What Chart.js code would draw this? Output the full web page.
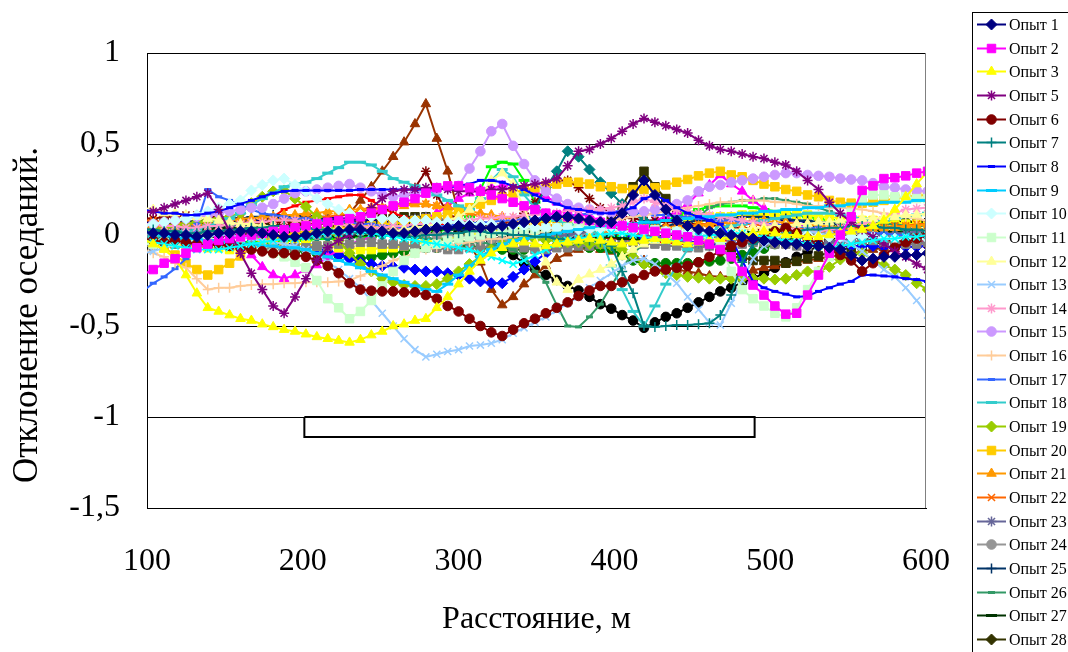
<!DOCTYPE html>
<html>
<head>
<meta charset="utf-8">
<script src="https://cdn.jsdelivr.net/npm/chart.js@4.4.1/dist/chart.umd.min.js"></script>
<style>
html, body { margin: 0; padding: 0; background: #fff; overflow: hidden; }
canvas { display: block; }
</style>
</head>
<body>
<canvas id="chart" width="1068" height="652"></canvas>
<script>
// distance along the profile, m
const distance = [
  97, 104, 111, 118, 125, 132, 139, 146, 153, 160,
  167, 174, 181, 188, 195, 202, 209, 216, 223, 230,
  237, 244, 251, 258, 265, 272, 279, 286, 293, 300,
  307, 314, 321, 328, 335, 342, 349, 356, 363, 370,
  377, 384, 391, 398, 405, 412, 419, 426, 433, 440,
  447, 454, 461, 468, 475, 482, 489, 496, 503, 510,
  517, 524, 531, 538, 545, 552, 559, 566, 573, 580,
  587, 594, 601
];

const opyt1 = [
  0.02,0.01,0.01,0.00,0.00,-0.01,0.00,0.01,0.01,0.02,
  0.02,0.01,0.00,-0.01,-0.01,0.00,0.01,0.02,0.02,0.03,
  0.03,0.02,0.02,0.01,0.01,0.02,0.03,0.04,0.04,0.05,
  0.05,0.04,0.04,0.05,0.06,0.07,0.08,0.09,0.10,0.10,
  0.09,0.08,0.07,0.07,0.12,0.22,0.30,0.22,0.14,0.08,
  0.05,0.03,0.02,0.01,0.00,-0.01,-0.02,-0.03,-0.04,-0.05,
  -0.05,-0.06,-0.06,-0.07,-0.08,-0.11,-0.14,-0.13,-0.12,-0.12,
  -0.11,-0.11,-0.10
];
const opyt2 = [
  -0.22,-0.19,-0.155,-0.13,-0.10,-0.07,-0.05,-0.03,-0.02,-0.01,
  0.00,0.01,0.02,0.03,0.04,0.05,0.06,0.07,0.08,0.09,
  0.10,0.12,0.14,0.16,0.18,0.20,0.23,0.26,0.27,0.27,
  0.26,0.24,0.22,0.20,0.18,0.16,0.14,0.12,0.11,0.10,
  0.09,0.08,0.07,0.06,0.05,0.04,0.03,0.02,0.01,0.00,
  -0.01,-0.03,-0.05,-0.08,-0.12,-0.20,-0.275,-0.33,-0.39,-0.435,
  -0.43,-0.33,-0.22,-0.10,0.00,0.10,0.245,0.27,0.31,0.315,
  0.325,0.34,0.35
];
const opyt3 = [
  -0.02,-0.05,-0.08,-0.13,-0.22,-0.32,-0.40,-0.42,-0.44,-0.46,
  -0.47,-0.49,-0.505,-0.52,-0.53,-0.545,-0.56,-0.57,-0.58,-0.59,
  -0.575,-0.55,-0.53,-0.50,-0.49,-0.47,-0.46,-0.40,-0.34,-0.27,
  -0.20,-0.14,-0.10,-0.07,-0.05,-0.04,-0.05,-0.06,-0.05,-0.04,
  -0.03,-0.02,-0.03,-0.04,-0.05,-0.04,-0.03,-0.02,-0.03,-0.04,
  -0.05,-0.04,-0.03,-0.02,-0.01,0.00,0.01,0.02,0.01,0.00,
  0.00,-0.01,-0.01,0.00,0.01,0.02,0.03,0.05,0.08,0.14,
  0.21,0.28,0.35
];
const opyt4 = [
  -0.03,-0.04,-0.05,-0.06,-0.07,-0.08,-0.08,-0.08,-0.07,-0.06,
  -0.05,-0.04,-0.03,-0.02,-0.02,-0.01,0.00,0.01,0.01,0.02,
  0.02,0.01,0.00,-0.01,-0.02,-0.03,-0.04,-0.05,-0.06,-0.07,
  -0.08,-0.10,-0.12,-0.14,-0.16,-0.14,-0.11,-0.08,-0.05,-0.03,
  -0.02,-0.01,0.00,0.01,0.01,0.00,-0.01,-0.02,-0.03,-0.03,
  -0.02,-0.01,0.00,0.00,0.01,0.01,0.00,-0.01,-0.02,-0.03,
  -0.04,-0.05,-0.06,-0.07,-0.06,-0.05,-0.04,-0.03,-0.02,-0.02,
  -0.01,-0.01,0.00
];
const opyt5 = [
  0.12,0.13,0.15,0.17,0.19,0.21,0.23,0.14,0.02,-0.10,
  -0.21,-0.30,-0.39,-0.43,-0.34,-0.24,-0.14,-0.07,-0.03,0.00,
  0.08,0.15,0.20,0.24,0.25,0.25,0.26,0.26,0.25,0.24,
  0.24,0.24,0.25,0.25,0.26,0.27,0.28,0.29,0.31,0.38,
  0.46,0.47,0.50,0.53,0.57,0.61,0.64,0.62,0.60,0.58,
  0.56,0.52,0.49,0.47,0.46,0.445,0.43,0.42,0.40,0.385,
  0.35,0.30,0.25,0.18,0.12,0.07,0.03,-0.01,-0.05,-0.09,
  -0.12,-0.16,-0.19
];
const opyt6 = [
  -0.02,-0.03,-0.04,-0.03,-0.04,-0.05,-0.06,-0.05,-0.06,-0.07,
  -0.08,-0.09,-0.10,-0.10,-0.11,-0.12,-0.14,-0.17,-0.21,-0.265,
  -0.30,-0.306,-0.31,-0.31,-0.315,-0.315,-0.33,-0.35,-0.39,-0.42,
  -0.46,-0.50,-0.535,-0.555,-0.52,-0.485,-0.46,-0.43,-0.40,-0.37,
  -0.335,-0.305,-0.28,-0.28,-0.26,-0.24,-0.22,-0.20,-0.19,-0.18,
  -0.17,-0.15,-0.12,-0.09,-0.06,-0.04,-0.02,0.00,0.02,0.04,
  0.01,-0.02,-0.05,-0.08,-0.11,-0.14,-0.20,-0.155,-0.11,-0.07,
  -0.04,-0.02,0.00
];
const opyt7 = [
  0.03,0.03,0.02,0.02,0.01,0.01,0.02,0.02,0.03,0.03,
  0.04,0.04,0.05,0.05,0.04,0.04,0.03,0.03,0.02,0.02,
  0.01,0.01,0.00,0.00,-0.01,-0.01,0.00,0.00,0.01,0.01,
  0.02,0.02,0.01,0.01,0.00,0.00,-0.01,-0.01,-0.02,-0.02,
  -0.03,-0.03,-0.04,-0.06,-0.20,-0.32,-0.50,-0.505,-0.50,-0.495,
  -0.495,-0.49,-0.485,-0.44,-0.33,-0.15,-0.05,-0.02,0.00,0.01,
  0.02,0.03,0.03,0.04,0.04,0.05,0.05,0.05,0.04,0.04,
  0.03,0.03,0.02
];
const opyt8 = [
  0.14,0.13,0.12,0.12,0.11,0.11,0.12,0.13,0.15,0.17,
  0.19,0.21,0.23,0.24,0.245,0.245,0.245,0.245,0.245,0.245,
  0.25,0.25,0.25,0.25,0.25,0.25,0.25,0.25,0.26,0.27,
  0.28,0.30,0.30,0.29,0.27,0.25,0.22,0.19,0.17,0.15,
  0.14,0.13,0.12,0.12,0.13,0.15,0.20,0.22,0.19,0.15,
  0.12,0.10,0.08,0.06,-0.02,-0.14,-0.255,-0.29,-0.31,-0.325,
  -0.34,-0.335,-0.31,-0.29,-0.27,-0.255,-0.22,-0.22,-0.225,-0.23,
  -0.24,-0.245,-0.255
];
const opyt9 = [
  0.02,0.01,0.00,-0.01,-0.02,-0.02,-0.03,-0.03,-0.04,-0.05,
  -0.05,-0.06,-0.06,-0.07,-0.07,-0.08,-0.10,-0.12,-0.14,-0.16,
  -0.18,-0.20,-0.22,-0.24,-0.26,-0.28,-0.30,-0.31,-0.27,-0.22,
  -0.17,-0.12,-0.08,-0.05,-0.03,-0.02,-0.01,0.00,0.01,0.02,
  0.03,0.04,0.05,0.05,0.06,0.06,0.07,0.07,0.08,0.08,
  0.09,0.10,0.10,0.11,0.11,0.12,0.12,0.13,0.13,0.14,
  0.14,0.15,0.15,0.16,0.16,0.17,0.17,0.17,0.18,0.18,
  0.18,0.19,0.19
];
const opyt10 = [
  0.05,0.06,0.07,0.08,0.09,0.11,0.13,0.15,0.17,0.19,
  0.245,0.275,0.30,0.31,0.275,0.24,0.20,0.17,0.14,0.12,
  0.11,0.10,0.09,0.09,0.08,0.08,0.08,0.07,0.07,0.07,
  0.06,0.06,0.06,0.05,0.05,0.05,0.04,0.04,0.04,0.04,
  0.03,0.03,0.03,0.03,0.02,0.02,0.02,0.02,0.02,0.02,
  0.01,0.01,0.01,0.01,0.01,0.01,0.00,0.00,0.00,0.00,
  0.00,0.00,-0.01,-0.01,-0.01,-0.01,-0.01,-0.01,-0.02,-0.02,
  -0.02,-0.02,-0.02
];
const opyt11 = [
  -0.05,-0.05,-0.04,-0.04,-0.03,-0.03,-0.03,-0.04,-0.05,-0.06,
  -0.07,-0.08,-0.10,-0.12,-0.15,-0.18,-0.25,-0.35,-0.40,-0.46,
  -0.42,-0.36,-0.28,-0.20,-0.14,-0.10,-0.07,-0.05,-0.03,-0.02,
  -0.01,0.00,0.01,0.02,0.02,0.03,0.03,0.04,0.04,0.04,
  0.05,0.05,0.05,0.05,0.04,0.04,0.03,0.03,0.02,0.02,
  0.01,0.00,-0.02,-0.05,-0.20,-0.30,-0.35,-0.39,-0.43,-0.45,
  -0.40,-0.30,-0.20,-0.12,0.00,0.12,0.20,0.22,0.22,0.21,
  0.21,0.20,0.20
];
const opyt12 = [
  0.15,0.14,0.12,0.12,0.11,0.10,0.09,0.08,0.07,0.06,
  0.06,0.05,0.05,0.04,0.04,0.04,0.03,0.03,0.03,0.03,
  0.02,0.02,0.02,0.02,0.03,0.04,0.05,0.06,0.08,0.10,
  0.14,0.20,0.30,0.34,0.28,0.15,0.00,-0.15,-0.26,-0.30,
  -0.245,-0.215,-0.19,-0.16,-0.12,-0.08,-0.05,-0.03,-0.02,-0.01,
  0.00,0.01,0.02,0.02,0.03,0.03,0.04,0.04,0.05,0.05,
  0.06,0.06,0.07,0.07,0.08,0.08,0.09,0.09,0.10,0.10,
  0.11,0.11,0.12
];
const opyt13 = [
  -0.10,-0.09,-0.07,-0.05,-0.03,-0.02,-0.01,0.00,0.00,-0.01,
  -0.02,-0.03,-0.04,-0.05,-0.06,-0.08,-0.11,-0.15,-0.19,-0.24,
  -0.29,-0.36,-0.43,-0.50,-0.57,-0.63,-0.67,-0.655,-0.64,-0.63,
  -0.61,-0.605,-0.595,-0.575,-0.54,-0.51,-0.48,-0.45,-0.415,-0.375,
  -0.34,-0.29,-0.25,-0.21,-0.17,-0.14,-0.13,-0.16,-0.21,-0.265,
  -0.34,-0.41,-0.48,-0.495,-0.375,-0.25,-0.13,-0.06,-0.02,0.00,
  0.01,0.02,0.01,0.00,-0.02,-0.05,-0.09,-0.14,-0.19,-0.23,
  -0.29,-0.36,-0.44
];
const opyt14 = [
  0.06,0.06,0.05,0.05,0.04,0.04,0.05,0.05,0.06,0.06,
  0.07,0.07,0.08,0.08,0.08,0.07,0.07,0.06,0.06,0.05,
  0.05,0.04,0.04,0.05,0.05,0.06,0.06,0.07,0.07,0.08,
  0.08,0.09,0.09,0.10,0.10,0.11,0.11,0.12,0.12,0.13,
  0.13,0.14,0.14,0.15,0.16,0.18,0.20,0.18,0.16,0.14,
  0.13,0.12,0.11,0.10,0.09,0.08,0.07,0.06,0.05,0.04,
  0.03,0.02,0.02,0.03,0.04,0.05,0.06,0.08,0.10,0.12,
  0.14,0.145,0.15
];
const opyt15 = [
  0.05,0.06,0.07,0.08,0.09,0.10,0.11,0.12,0.13,0.14,
  0.15,0.15,0.17,0.20,0.23,0.24,0.25,0.26,0.27,0.28,
  0.26,0.24,0.22,0.21,0.22,0.23,0.24,0.25,0.26,0.27,
  0.365,0.46,0.57,0.61,0.49,0.39,0.30,0.24,0.20,0.17,
  0.15,0.14,0.13,0.12,0.12,0.13,0.13,0.14,0.15,0.17,
  0.19,0.24,0.265,0.275,0.29,0.30,0.31,0.32,0.33,0.34,
  0.34,0.33,0.325,0.32,0.31,0.305,0.30,0.285,0.265,0.26,
  0.25,0.245,0.24
];
const opyt16 = [
  -0.08,-0.10,-0.12,-0.155,-0.18,-0.24,-0.30,-0.29,-0.29,-0.28,
  -0.275,-0.27,-0.27,-0.265,-0.265,-0.26,-0.26,-0.26,-0.255,-0.25,
  -0.225,-0.20,-0.17,-0.14,-0.12,-0.10,-0.08,-0.07,-0.06,-0.05,
  -0.04,-0.03,-0.02,-0.02,-0.01,0.00,0.01,0.02,0.03,0.04,
  0.05,0.06,0.07,0.08,0.09,0.10,0.11,0.12,0.13,0.14,
  0.15,0.16,0.17,0.18,0.18,0.19,0.19,0.19,0.18,0.18,
  0.17,0.16,0.16,0.15,0.15,0.145,0.14,0.13,0.12,0.11,
  0.10,0.09,0.08
];
const opyt17 = [
  -0.31,-0.265,-0.23,-0.185,-0.13,0.06,0.25,0.21,0.19,0.165,
  0.14,0.12,0.11,0.10,0.09,0.09,0.08,0.08,0.07,0.07,
  0.06,0.06,0.05,0.05,0.04,0.04,0.04,0.05,0.05,0.06,
  0.06,0.07,0.07,0.08,0.08,0.09,0.09,0.10,0.10,0.11,
  0.11,0.12,0.12,0.13,0.13,0.12,0.12,0.11,0.11,0.10,
  0.10,0.09,0.09,0.08,0.08,0.07,0.07,0.06,0.06,0.05,
  0.05,0.04,0.04,0.03,0.03,0.02,0.02,0.01,0.01,0.00,
  0.00,-0.01,-0.01
];
const opyt18 = [
  -0.02,-0.01,0.00,0.01,0.02,0.03,0.05,0.07,0.09,0.12,
  0.165,0.20,0.23,0.265,0.28,0.29,0.31,0.34,0.37,0.40,
  0.40,0.385,0.35,0.31,0.29,0.27,0.25,0.22,0.19,0.16,
  0.14,0.20,0.30,0.36,0.32,0.22,0.15,0.10,0.08,0.06,
  0.05,0.03,0.00,-0.17,-0.30,-0.42,-0.50,-0.39,-0.27,-0.17,
  -0.08,-0.02,0.02,0.04,0.05,0.06,0.07,0.08,0.09,0.10,
  0.11,0.12,0.12,0.12,0.11,0.10,0.09,0.08,0.08,0.09,
  0.10,0.11,0.12
];
const opyt19 = [
  0.02,0.03,0.04,0.05,0.06,0.07,0.08,0.09,0.10,0.12,
  0.175,0.21,0.24,0.245,0.20,0.155,0.10,0.04,-0.03,-0.10,
  -0.16,-0.20,-0.24,-0.26,-0.275,-0.28,-0.28,-0.27,-0.24,-0.20,
  -0.16,-0.12,-0.08,-0.05,-0.03,-0.02,-0.02,-0.03,-0.03,-0.04,
  -0.04,-0.05,-0.05,-0.06,-0.08,-0.12,-0.16,-0.19,-0.21,-0.22,
  -0.23,-0.235,-0.24,-0.24,-0.24,-0.24,-0.24,-0.24,-0.245,-0.24,
  -0.22,-0.20,-0.20,-0.175,-0.135,-0.11,-0.10,-0.135,-0.165,-0.19,
  -0.22,-0.265,-0.30
];
const opyt20 = [
  -0.02,-0.04,-0.07,-0.11,-0.155,-0.19,-0.22,-0.19,-0.155,-0.115,
  -0.07,-0.04,-0.02,0.00,0.01,0.02,0.03,0.03,0.04,0.04,
  0.05,0.05,0.06,0.06,0.07,0.08,0.09,0.10,0.11,0.13,
  0.15,0.17,0.19,0.21,0.23,0.25,0.26,0.27,0.28,0.29,
  0.29,0.28,0.265,0.265,0.255,0.25,0.25,0.26,0.275,0.29,
  0.305,0.325,0.34,0.35,0.33,0.32,0.30,0.28,0.265,0.25,
  0.24,0.22,0.21,0.19,0.18,0.175,0.175,0.18,0.19,0.20,
  0.21,0.215,0.22
];
const opyt21 = [
  0.04,0.05,0.05,0.06,0.06,0.07,0.07,0.08,0.08,0.09,
  0.09,0.10,0.10,0.11,0.11,0.12,0.12,0.13,0.13,0.14,
  0.14,0.15,0.15,0.16,0.16,0.17,0.17,0.16,0.15,0.14,
  0.13,0.12,0.11,0.10,0.09,0.08,0.07,0.06,0.05,0.05,
  0.04,0.04,0.03,0.03,0.02,0.02,0.03,0.03,0.04,0.04,
  0.05,0.05,0.06,0.06,0.07,0.07,0.08,0.08,0.07,0.07,
  0.06,0.06,0.05,0.05,0.04,0.04,0.03,0.03,0.04,0.04,
  0.05,0.05,0.06
];
const opyt22 = [
  0.08,0.08,0.07,0.07,0.06,0.06,0.05,0.05,0.06,0.06,
  0.07,0.07,0.08,0.08,0.09,0.09,0.10,0.10,0.11,0.12,
  0.13,0.14,0.15,0.16,0.17,0.175,0.17,0.16,0.15,0.14,
  0.12,0.10,0.09,0.08,0.07,0.06,0.06,0.05,0.05,0.04,
  0.04,0.03,0.03,0.02,0.02,0.03,0.03,0.04,0.04,0.05,
  0.05,0.06,0.06,0.07,0.07,0.06,0.06,0.05,0.05,0.04,
  0.04,0.03,0.03,0.02,0.02,0.03,0.03,0.04,0.04,0.05,
  0.05,0.06,0.06
];
const opyt23 = [
  0.03,0.03,0.04,0.04,0.05,0.05,0.06,0.06,0.05,0.05,
  0.04,0.04,0.03,0.03,0.02,0.02,0.03,0.03,0.04,0.04,
  0.05,0.05,0.06,0.07,0.08,0.09,0.10,0.09,0.08,0.07,
  0.06,0.05,0.04,0.03,0.02,0.01,0.00,-0.01,-0.01,0.00,
  0.01,0.02,0.03,0.03,0.02,0.01,0.00,-0.01,-0.02,-0.03,
  -0.04,-0.05,-0.06,-0.06,-0.05,-0.04,-0.03,-0.02,-0.02,-0.03,
  -0.04,-0.05,-0.05,-0.04,-0.03,-0.02,-0.01,0.00,0.00,0.01,
  0.01,0.02,0.02
];
const opyt24 = [
  0.00,0.01,0.01,0.02,0.02,0.01,0.01,0.00,0.00,-0.01,
  -0.01,-0.02,-0.02,-0.01,-0.01,0.00,0.00,0.01,0.01,0.02,
  0.02,0.03,0.03,0.02,0.02,0.01,0.01,0.00,0.00,-0.01,
  -0.01,-0.02,-0.02,-0.03,-0.03,-0.02,-0.02,-0.01,-0.01,0.00,
  0.00,0.01,0.01,0.02,0.02,0.03,0.03,0.02,0.02,0.01,
  0.01,0.00,0.00,-0.01,-0.01,-0.02,-0.02,-0.01,-0.01,0.00,
  0.00,0.01,0.01,0.02,0.02,0.01,0.01,0.00,0.00,-0.01,
  -0.01,0.00,0.00
];
const opyt25 = [
  0.05,0.05,0.06,0.06,0.07,0.07,0.08,0.08,0.09,0.09,
  0.10,0.10,0.11,0.11,0.10,0.10,0.09,0.09,0.08,0.08,
  0.07,0.07,0.06,0.06,0.05,0.05,0.04,0.04,0.03,0.03,
  0.02,0.02,0.01,0.01,0.00,0.00,-0.01,-0.01,-0.02,-0.02,
  -0.01,-0.01,0.00,0.00,0.01,0.02,0.03,0.04,0.05,0.06,
  0.07,0.08,0.08,0.09,0.09,0.10,0.10,0.10,0.09,0.09,
  0.08,0.08,0.07,0.07,0.06,0.06,0.05,0.05,0.04,0.04,
  0.03,0.03,0.02
];
const opyt26 = [
  -0.01,-0.01,0.00,0.00,0.01,0.01,0.02,0.02,0.02,0.03,
  0.03,0.03,0.04,0.04,0.04,0.03,0.03,0.03,0.02,0.02,
  0.01,0.01,0.00,0.00,-0.01,-0.01,-0.02,-0.02,-0.03,-0.03,
  -0.04,-0.04,-0.05,-0.06,-0.08,-0.12,-0.20,-0.26,-0.385,-0.50,
  -0.505,-0.45,-0.38,-0.28,-0.18,-0.10,-0.05,-0.02,0.00,0.03,
  0.06,0.10,0.15,0.17,0.18,0.19,0.19,0.20,0.20,0.19,
  0.18,0.17,0.15,0.13,0.11,0.09,0.08,0.07,0.06,0.06,
  0.05,0.05,0.05
];
const opyt27 = [
  0.01,0.01,0.02,0.02,0.03,0.03,0.03,0.04,0.04,0.04,
  0.03,0.03,0.02,0.02,0.01,0.01,0.00,0.00,-0.01,-0.01,
  0.00,0.00,0.01,0.01,0.02,0.02,0.03,0.03,0.04,0.04,
  0.05,0.05,0.04,0.04,0.03,0.03,0.02,0.02,0.01,0.01,
  0.00,0.00,-0.01,-0.01,-0.02,-0.02,-0.03,-0.03,-0.02,-0.02,
  -0.01,-0.01,0.00,0.00,0.01,0.01,0.02,0.02,0.03,0.03,
  0.04,0.04,0.05,0.05,0.04,0.04,0.03,0.03,0.02,0.02,
  0.01,0.01,0.00
];
const opyt28 = [
  0.02,0.02,0.01,0.01,0.00,0.00,-0.01,-0.01,0.00,0.00,
  0.01,0.01,0.02,0.02,0.03,0.03,0.04,0.04,0.05,0.05,
  0.04,0.04,0.03,0.03,0.02,0.02,0.01,0.01,0.00,0.00,
  -0.01,-0.01,-0.02,-0.02,-0.01,-0.01,0.00,0.00,0.01,0.01,
  0.02,0.02,0.03,0.03,0.04,0.04,0.03,0.03,0.02,0.02,
  0.01,0.01,0.00,0.00,-0.01,-0.01,-0.02,-0.02,-0.01,-0.01,
  0.00,0.00,0.01,0.01,0.02,0.02,0.03,0.03,0.02,0.02,
  0.01,0.01,0.00
];
// further runs, plotted but not listed in the legend
const opyt29 = [
  -0.06,-0.06,-0.05,-0.05,-0.04,-0.04,-0.05,-0.05,-0.06,-0.06,
  -0.07,-0.07,-0.08,-0.08,-0.07,-0.07,-0.06,-0.06,-0.05,-0.05,
  -0.04,-0.04,-0.05,-0.05,-0.06,-0.06,-0.07,-0.07,-0.08,-0.08,
  -0.07,-0.07,-0.06,-0.06,-0.07,-0.07,-0.08,-0.08,-0.07,-0.07,
  -0.06,-0.06,-0.05,-0.05,-0.04,-0.04,-0.05,-0.05,-0.06,-0.06,
  -0.07,-0.07,-0.06,-0.06,-0.05,-0.05,-0.04,-0.04,-0.05,-0.05,
  -0.06,-0.06,-0.05,-0.05,-0.04,-0.04,-0.03,-0.03,-0.04,-0.04,
  -0.05,-0.05,-0.04
];
const opyt30 = [
  -0.04,-0.04,-0.05,-0.05,-0.06,-0.06,-0.07,-0.07,-0.08,-0.08,
  -0.07,-0.07,-0.06,-0.06,-0.05,-0.05,-0.06,-0.06,-0.07,-0.07,
  -0.08,-0.08,-0.07,-0.07,-0.06,-0.05,-0.04,-0.03,-0.02,-0.01,
  0.00,0.01,0.02,0.03,0.04,0.05,0.06,0.07,0.08,0.09,
  0.08,0.07,0.06,0.05,0.04,0.03,0.03,0.02,0.02,0.01,
  0.09,0.09,0.10,0.10,0.10,0.11,0.11,0.11,0.11,0.11,
  0.11,0.11,0.10,0.10,0.09,0.09,0.08,0.08,0.07,0.07,
  0.06,0.06,0.05
];
const opyt31 = [
  0.07,0.07,0.06,0.06,0.05,0.05,0.06,0.06,0.07,0.07,
  0.08,0.08,0.09,0.10,0.11,0.11,0.10,0.10,0.09,0.09,
  0.08,0.08,0.07,0.07,0.06,0.06,0.05,0.05,0.04,0.04,
  0.03,0.03,0.02,0.02,0.01,0.01,0.02,0.02,0.03,0.03,
  0.04,0.04,0.05,0.05,0.06,0.06,0.07,0.07,0.08,0.08,
  0.09,0.09,0.10,0.10,0.10,0.10,0.10,0.09,0.09,0.08,
  0.08,0.07,0.07,0.06,0.06,0.05,0.05,0.05,0.04,0.04,
  0.04,0.03,0.03
];
const opyt32 = [
  -0.01,-0.01,-0.02,-0.02,-0.02,-0.01,-0.01,-0.01,0.00,0.00,
  0.00,-0.01,-0.01,-0.02,-0.02,-0.02,-0.01,-0.01,0.00,0.00,
  0.01,0.01,0.00,0.00,-0.01,-0.01,-0.02,-0.02,-0.02,-0.01,
  -0.01,0.00,0.00,0.01,0.01,0.06,0.15,0.26,0.35,0.46,
  0.43,0.36,0.29,0.23,0.17,0.12,0.08,0.05,0.03,0.02,
  0.01,0.00,-0.01,-0.01,-0.02,-0.02,-0.01,-0.01,0.00,0.00,
  0.01,0.01,0.00,0.00,-0.01,-0.01,-0.02,-0.02,-0.01,-0.01,
  0.00,0.00,0.01
];
const opyt33 = [
  0.09,0.09,0.10,0.10,0.11,0.11,0.10,0.10,0.09,0.09,
  0.08,0.08,0.07,0.07,0.06,0.06,0.07,0.07,0.08,0.09,
  0.10,0.11,0.13,0.15,0.19,0.26,0.35,0.22,0.12,0.08,
  0.06,0.05,0.05,0.06,0.08,0.12,0.18,0.25,0.30,0.30,
  0.26,0.20,0.15,0.12,0.10,0.09,0.08,0.08,0.07,0.07,
  0.06,0.06,0.05,0.05,0.04,0.04,0.03,0.03,0.02,0.02,
  0.01,0.01,0.00,0.00,-0.01,-0.01,-0.02,-0.02,-0.03,-0.03,
  -0.04,-0.04,-0.05
];
const opyt34 = [
  0.05,0.05,0.04,0.04,0.03,0.03,0.02,0.01,-0.02,-0.06,
  -0.11,-0.175,-0.22,-0.24,-0.22,-0.19,-0.165,-0.12,-0.08,-0.05,
  -0.03,-0.01,0.01,0.03,0.05,0.07,0.09,0.12,0.16,0.20,
  0.23,0.25,0.26,0.27,0.27,0.26,0.24,0.21,0.18,0.15,
  0.12,0.10,0.08,0.07,0.06,0.06,0.07,0.08,0.10,0.13,
  0.17,0.23,0.275,0.33,0.28,0.24,0.19,0.145,0.105,0.08,
  0.06,0.05,0.04,0.03,0.02,0.02,0.01,0.01,0.00,0.00,
  -0.01,-0.01,-0.02
];
const opyt35 = [
  0.03,0.03,0.04,0.04,0.05,0.05,0.05,0.06,0.06,0.06,
  0.07,0.08,0.10,0.14,0.16,0.18,0.19,0.20,0.21,0.22,
  0.22,0.19,0.15,0.12,0.10,0.08,0.07,0.06,0.06,0.05,
  0.05,0.04,0.04,0.03,0.03,0.02,0.02,0.01,0.01,0.00,
  0.00,-0.01,-0.01,-0.02,-0.02,-0.03,-0.03,-0.04,-0.04,-0.05,
  -0.05,-0.04,-0.04,-0.03,-0.03,-0.02,-0.02,-0.01,-0.01,0.00,
  0.00,0.01,0.01,0.02,0.02,0.03,0.03,0.04,0.04,0.05,
  0.05,0.06,0.06
];
const opyt36 = [
  -0.05,-0.05,-0.06,-0.06,-0.06,-0.06,-0.06,-0.05,-0.05,-0.05,
  -0.04,-0.04,-0.04,-0.03,-0.03,-0.03,-0.02,-0.02,-0.02,-0.01,
  -0.01,-0.01,0.00,0.00,0.00,0.01,0.01,0.02,0.03,0.05,
  0.10,0.25,0.375,0.40,0.39,0.30,0.18,0.08,0.00,-0.02,
  -0.03,-0.03,-0.02,-0.01,0.00,0.02,0.04,0.06,0.08,0.10,
  0.12,0.14,0.155,0.16,0.16,0.16,0.15,0.14,0.13,0.12,
  0.11,0.10,0.09,0.08,0.07,0.06,0.05,0.05,0.04,0.04,
  0.03,0.03,0.02
];
const opyt37 = [
  0.00,-0.01,-0.01,-0.02,-0.02,-0.03,-0.03,-0.03,-0.04,-0.04,
  -0.04,-0.04,-0.05,-0.05,-0.05,-0.05,-0.07,-0.09,-0.11,-0.13,
  -0.15,-0.16,-0.17,-0.175,-0.18,-0.19,-0.20,-0.20,-0.21,-0.22,
  -0.24,-0.255,-0.265,-0.265,-0.23,-0.19,-0.145,-0.10,-0.06,-0.03,
  -0.01,0.00,0.01,0.01,0.00,-0.01,-0.02,-0.02,-0.03,-0.03,
  -0.04,-0.04,-0.05,-0.05,-0.05,-0.04,-0.04,-0.03,-0.03,-0.03,
  -0.04,-0.04,-0.05,-0.05,-0.06,-0.06,-0.06,-0.06,-0.065,-0.065,
  -0.065,-0.065,-0.06
];
const opyt38 = [
  0.04,0.05,0.06,0.06,0.07,0.07,0.06,0.05,0.04,0.03,
  0.01,-0.02,-0.045,-0.065,-0.09,-0.09,-0.10,-0.10,-0.11,-0.12,
  -0.13,-0.12,-0.11,-0.10,-0.09,-0.08,-0.07,-0.07,-0.06,-0.06,
  -0.06,-0.07,-0.07,-0.08,-0.08,-0.08,-0.07,-0.07,-0.06,-0.06,
  -0.06,-0.07,-0.07,-0.075,-0.11,-0.14,-0.155,-0.155,-0.155,-0.155,
  -0.155,-0.15,-0.145,-0.14,-0.13,-0.11,-0.095,-0.075,-0.05,-0.03,
  -0.01,0.01,0.02,0.03,0.04,0.05,0.05,0.06,0.06,0.06,
  0.06,0.06,0.06
];
const opyt39 = [
  0.06,0.06,0.07,0.07,0.07,0.08,0.08,0.08,0.08,0.07,
  0.07,0.06,0.06,0.05,0.05,0.05,0.06,0.06,0.07,0.07,
  0.08,0.08,0.09,0.09,0.10,0.10,0.10,0.09,0.08,0.07,
  0.06,0.05,0.04,0.03,0.02,0.02,0.01,0.01,0.02,0.03,
  0.04,0.05,0.06,0.08,0.16,0.265,0.35,0.265,0.20,0.14,
  0.08,0.03,-0.02,-0.06,-0.09,-0.12,-0.14,-0.14,-0.14,-0.155,
  -0.145,-0.13,-0.115,-0.095,-0.08,-0.07,-0.06,-0.05,-0.04,-0.03,
  -0.02,-0.02,-0.01
];
const opyt40 = [
  0.02,0.03,0.02,0.01,0.00,0.00,0.01,0.02,0.03,0.03,
  0.04,0.05,0.05,0.06,0.06,0.07,0.08,0.09,0.10,0.12,
  0.19,0.265,0.35,0.43,0.51,0.61,0.72,0.53,0.35,0.12,
  -0.05,-0.15,-0.30,-0.385,-0.34,-0.27,-0.22,-0.17,-0.13,-0.10,
  -0.08,-0.07,-0.08,-0.09,-0.10,-0.12,-0.14,-0.16,-0.18,-0.19,
  -0.20,-0.21,-0.225,-0.23,-0.225,-0.21,-0.195,-0.18,-0.17,-0.16,
  -0.15,-0.14,-0.13,-0.12,-0.11,-0.10,-0.09,-0.08,-0.07,-0.06,
  -0.05,-0.04,-0.03
];
const opyt41 = [
  0.03,0.03,0.04,0.04,0.05,0.05,0.05,0.06,0.06,0.06,
  0.06,0.07,0.07,0.07,0.07,0.07,0.08,0.08,0.08,0.07,
  0.07,0.07,0.07,0.07,0.065,0.08,0.09,0.07,0.05,0.02,
  0.00,-0.02,-0.03,-0.07,-0.11,-0.155,-0.187,-0.22,-0.247,-0.28,
  -0.305,-0.34,-0.38,-0.405,-0.44,-0.47,-0.51,-0.48,-0.45,-0.43,
  -0.40,-0.37,-0.34,-0.31,-0.29,-0.26,-0.24,-0.21,-0.18,-0.15,
  -0.12,-0.09,-0.06,-0.03,0.00,0.03,0.05,0.06,0.07,0.07,
  0.07,0.07,0.07
];

// the outlined block under the profile
const blockX = [201, 490, 490, 201, 201];
const blockY = [-1, -1, -1.11, -1.11, -1];

const xTicks = [100, 200, 300, 400, 500, 600];
const yTicks = [1, 0.5, 0, -0.5, -1, -1.5];

// drawing order = Excel series order; legend: true for the listed runs
const series = [
  { label: 'Опыт 1',  values: opyt1,  color: '#000080', marker: 'diamond',  legend: true },
  { label: 'Опыт 2',  values: opyt2,  color: '#FF00FF', marker: 'square',   legend: true },
  { label: 'Опыт 3',  values: opyt3,  color: '#FFFF00', marker: 'triangle', legend: true },
  { label: 'Опыт 4',  values: opyt4,  color: '#00FFFF', marker: 'x',        legend: false },
  { label: 'Опыт 5',  values: opyt5,  color: '#800080', marker: 'star',     legend: true },
  { label: 'Опыт 6',  values: opyt6,  color: '#800000', marker: 'circle',   legend: true },
  { label: 'Опыт 7',  values: opyt7,  color: '#008080', marker: 'plus',     legend: true },
  { label: 'Опыт 8',  values: opyt8,  color: '#0000FF', marker: 'bar',      legend: true },
  { label: 'Опыт 9',  values: opyt9,  color: '#00CCFF', marker: 'longbar',  legend: true },
  { label: 'Опыт 10', values: opyt10, color: '#CCFFFF', marker: 'diamond',  legend: true },
  { label: 'Опыт 11', values: opyt11, color: '#CCFFCC', marker: 'square',   legend: true },
  { label: 'Опыт 12', values: opyt12, color: '#FFFF99', marker: 'triangle', legend: true },
  { label: 'Опыт 13', values: opyt13, color: '#99CCFF', marker: 'x',        legend: true },
  { label: 'Опыт 14', values: opyt14, color: '#FF99CC', marker: 'star',     legend: true },
  { label: 'Опыт 15', values: opyt15, color: '#CC99FF', marker: 'circle',   legend: true },
  { label: 'Опыт 16', values: opyt16, color: '#FFCC99', marker: 'plus',     legend: true },
  { label: 'Опыт 17', values: opyt17, color: '#3366FF', marker: 'bar',      legend: true },
  { label: 'Опыт 18', values: opyt18, color: '#33CCCC', marker: 'longbar',  legend: true },
  { label: 'Опыт 19', values: opyt19, color: '#99CC00', marker: 'diamond',  legend: true },
  { label: 'Опыт 20', values: opyt20, color: '#FFCC00', marker: 'square',   legend: true },
  { label: 'Опыт 21', values: opyt21, color: '#FF9900', marker: 'triangle', legend: true },
  { label: 'Опыт 22', values: opyt22, color: '#FF6600', marker: 'x',        legend: true },
  { label: 'Опыт 23', values: opyt23, color: '#666699', marker: 'star',     legend: true },
  { label: 'Опыт 24', values: opyt24, color: '#969696', marker: 'circle',   legend: true },
  { label: 'Опыт 25', values: opyt25, color: '#003366', marker: 'plus',     legend: true },
  { label: 'Опыт 26', values: opyt26, color: '#339966', marker: 'bar',      legend: true },
  { label: 'Опыт 27', values: opyt27, color: '#003300', marker: 'longbar',  legend: true },
  { label: 'Опыт 28', values: opyt28, color: '#333300', marker: 'diamond',  legend: true },
  { label: 'Опыт 29', values: opyt29, color: '#808080', marker: 'square',   legend: false },
  { label: 'Опыт 30', values: opyt30, color: '#FFFF00', marker: 'square',   legend: false },
  { label: 'Опыт 31', values: opyt31, color: '#000080', marker: 'plus',     legend: false },
  { label: 'Опыт 32', values: opyt32, color: '#008080', marker: 'diamond',  legend: false },
  { label: 'Опыт 33', values: opyt33, color: '#800000', marker: 'star',     legend: false },
  { label: 'Опыт 34', values: opyt34, color: '#FF00FF', marker: 'triangle', legend: false },
  { label: 'Опыт 35', values: opyt35, color: '#FF0000', marker: 'bar',      legend: false },
  { label: 'Опыт 36', values: opyt36, color: '#00FF00', marker: 'longbar',  legend: false },
  { label: 'Опыт 37', values: opyt37, color: '#0000FF', marker: 'diamond',  legend: false },
  { label: 'Опыт 38', values: opyt38, color: '#008000', marker: 'circle',   legend: false },
  { label: 'Опыт 39', values: opyt39, color: '#333300', marker: 'square',   legend: false },
  { label: 'Опыт 40', values: opyt40, color: '#993300', marker: 'triangle', legend: false },
  { label: 'Опыт 41', values: opyt41, color: '#000000', marker: 'circle',   legend: false }
];

// marker name -> chart.js point style
const markers = {
  diamond:  { style: 'rectRot',  radius: 5.5, width: 1 },
  square:   { style: 'rect',     radius: 6,   width: 1 },
  triangle: { style: 'triangle', radius: 5.5, width: 1 },
  x:        { style: 'crossRot', radius: 5,   width: 1.5 },
  star:     { style: 'star',     radius: 5,   width: 1.5 },
  circle:   { style: 'circle',   radius: 4.8, width: 1 },
  plus:     { style: 'cross',    radius: 5,   width: 1.5 },
  bar:      { style: 'line',     radius: 3.5, width: 3 },
  longbar:  { style: 'line',     radius: 5.5, width: 3 }
};

const serif = '"Liberation Serif", "Times New Roman", serif';

const datasets = series.map(s => {
  const m = markers[s.marker];
  return {
    label: s.label,
    data: distance.map((x, i) => ({ x: x, y: s.values[i] })),
    borderColor: s.color,
    backgroundColor: s.color,
    borderWidth: 2,
    pointStyle: m.style,
    pointRadius: m.radius,
    pointBorderWidth: m.width,
    pointBackgroundColor: s.color,
    pointBorderColor: s.color,
    pointHoverRadius: m.radius,
    tension: 0,
    clip: 0,
    showInLegend: s.legend,
    marker: s.marker
  };
});

datasets.push({
  label: 'block',
  data: blockX.map((x, i) => ({ x: x, y: blockY[i] })),
  borderColor: '#000',
  borderWidth: 2,
  pointRadius: 0,
  fill: false,
  tension: 0,
  showInLegend: false
});

// y axis title sits lower than the axis centre in the original
const yTitlePlugin = {
  id: 'yTitle',
  afterDraw(chart) {
    const ctx = chart.ctx;
    ctx.save();
    ctx.translate(28, 315);
    ctx.rotate(-Math.PI / 2);
    ctx.font = '35px ' + serif;
    ctx.fillStyle = '#000';
    ctx.textAlign = 'center';
    ctx.textBaseline = 'middle';
    ctx.fillText('Отклонение оседаний.', 0, 0);
    ctx.restore();
  }
};

const plotBorder = {
  id: 'plotBorder',
  afterDatasetsDraw(chart) {
    const { ctx, chartArea } = chart;
    ctx.save();
    ctx.strokeStyle = '#808080';
    ctx.lineWidth = 1;
    ctx.beginPath();
    ctx.moveTo(Math.round(chartArea.right) - 0.5, chartArea.top);
    ctx.lineTo(Math.round(chartArea.right) - 0.5, chartArea.bottom);
    ctx.stroke();
    ctx.restore();
  }
};

// excel-like legend box on the right, cut by the page edge
const sideLegend = {
  id: 'sideLegend',
  afterDraw(chart) {
    const ctx = chart.ctx;
    const items = chart.data.datasets.filter(d => d.showInLegend);
    ctx.save();
    ctx.fillStyle = '#fff';
    ctx.fillRect(972, 12, 200, 700);
    ctx.strokeStyle = '#000';
    ctx.lineWidth = 1;
    ctx.strokeRect(972.5, 12.5, 200, 700);
    items.forEach((d, i) => {
      const y = Math.round(24 + i * 23.65) + 0.5;
      ctx.strokeStyle = d.borderColor;
      ctx.lineWidth = 2;
      ctx.beginPath();
      ctx.moveTo(977, y);
      ctx.lineTo(1006, y);
      ctx.stroke();
      const m = markers[d.marker];
      ctx.fillStyle = d.borderColor;
      ctx.strokeStyle = d.borderColor;
      ctx.lineWidth = m.width;
      if (Chart.helpers && Chart.helpers.drawPoint) {
        Chart.helpers.drawPoint(ctx, { pointStyle: m.style, radius: m.radius, rotation: 0, borderWidth: m.width }, 991.5, y);
      }
      ctx.fillStyle = '#000';
      ctx.font = '16px ' + serif;
      ctx.textAlign = 'left';
      ctx.textBaseline = 'middle';
      ctx.fillText(d.label, 1009, y + 1);
    });
    ctx.restore();
  }
};

new Chart(document.getElementById('chart'), {
  type: 'line',
  data: { datasets: datasets },
  options: {
    responsive: false,
    animation: false,
    devicePixelRatio: 1,
    events: [],
    layout: { padding: { left: 0, top: 53, right: 142, bottom: 0 } },
    plugins: {
      legend: { display: false },
      tooltip: { enabled: false },
      title: { display: false }
    },
    scales: {
      x: {
        type: 'linear',
        min: xTicks[0],
        max: xTicks[xTicks.length - 1],
        afterBuildTicks(scale) { scale.ticks = xTicks.map(v => ({ value: v })); },
        afterFit(scale) { scale.height = 144; },
        grid: { display: false, drawTicks: false },
        border: { display: true, color: '#000', width: 1 },
        ticks: { color: '#000', font: { family: serif, size: 32 }, padding: 34, maxRotation: 0 },
        title: {
          display: true,
          text: 'Расстояние, м',
          color: '#000',
          font: { family: serif, size: 32 },
          padding: { top: 13, bottom: 13 }
        }
      },
      y: {
        type: 'linear',
        min: yTicks[yTicks.length - 1],
        max: yTicks[0],
        afterBuildTicks(scale) { scale.ticks = yTicks.map(v => ({ value: v })); },
        afterFit(scale) { scale.width = 147; },
        grid: { color: '#000', lineWidth: 1, drawTicks: false },
        border: { display: true, color: '#000', width: 1 },
        ticks: {
          color: '#000',
          font: { family: serif, size: 32 },
          padding: 27,
          callback: v => String(v).replace('.', ',')
        }
      }
    }
  },
  plugins: [plotBorder, yTitlePlugin, sideLegend]
});
</script>
</body>
</html>
